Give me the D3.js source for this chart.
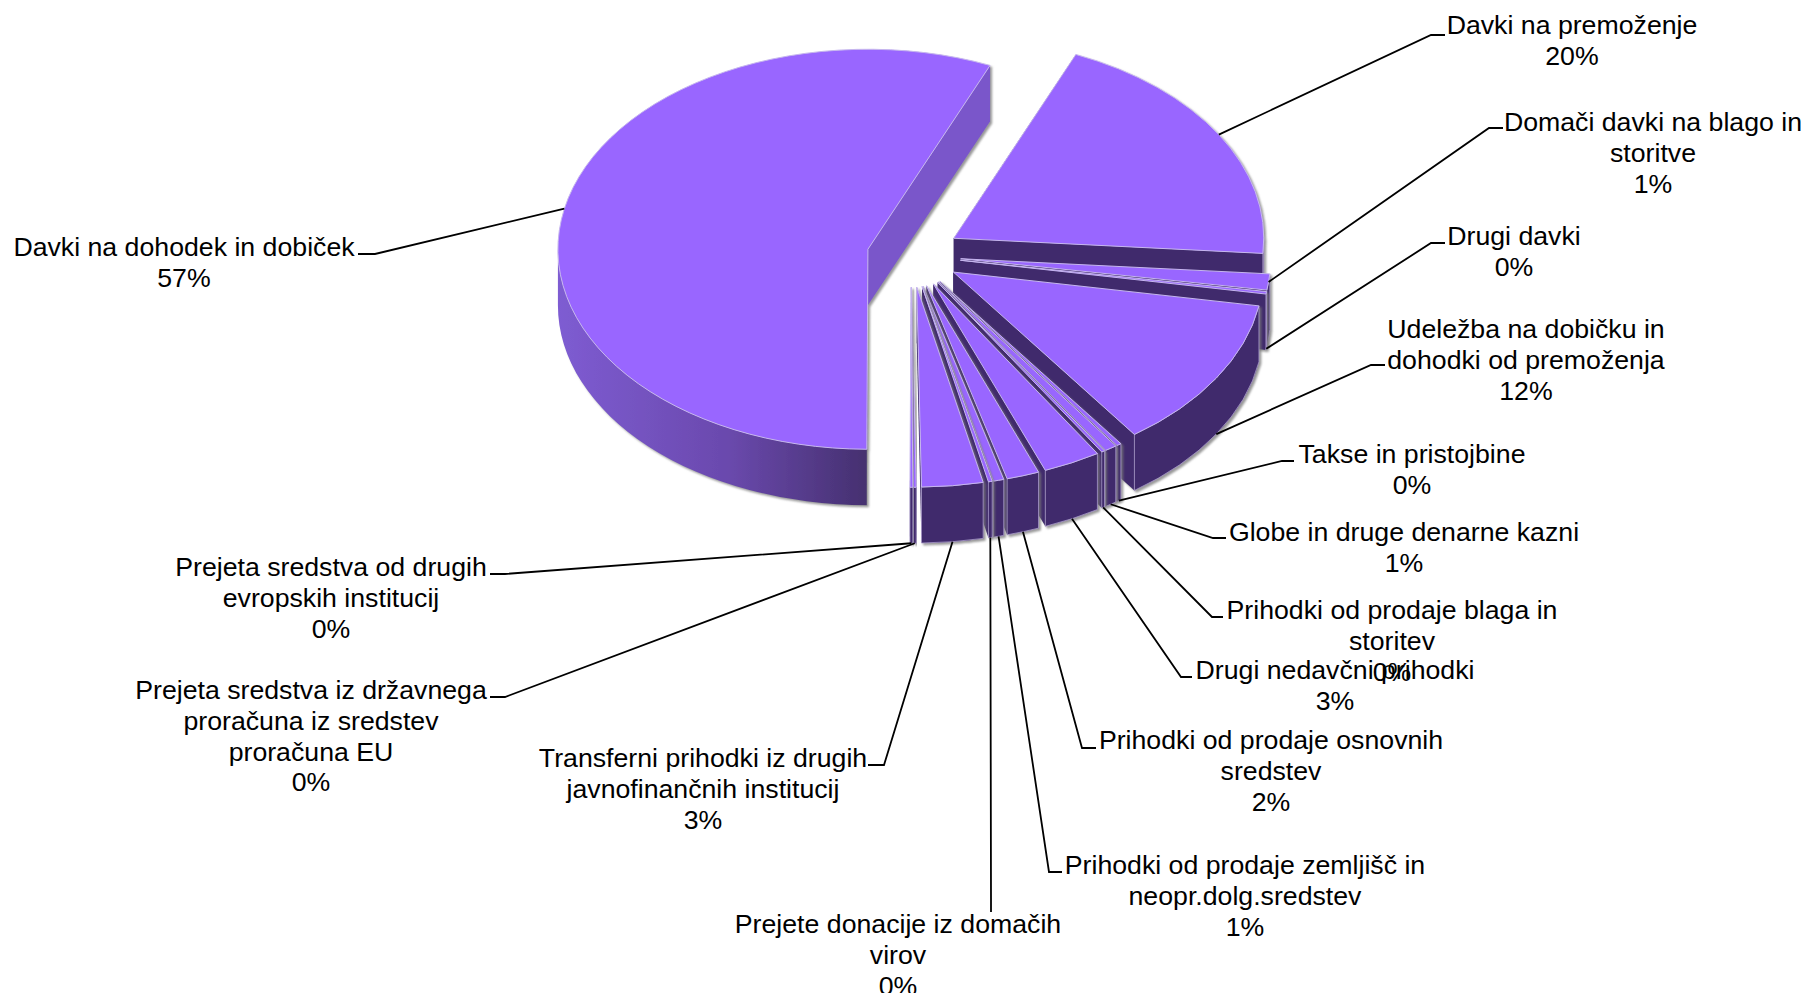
<!DOCTYPE html>
<html>
<head>
<meta charset="utf-8">
<script src="https://cdnjs.cloudflare.com/ajax/libs/d3/7.8.5/d3.min.js"></script>
<style>
html,body{margin:0;padding:0;background:#fff;}
svg{display:block;}
text{font-family:"Liberation Sans",Arial,sans-serif;font-size:26.7px;fill:#000;text-anchor:middle;}
.leader{fill:none;stroke:#000;stroke-width:1.8px;}
</style>
</head>
<body>
<div id="canvas"></div>
<script>
//data, clockwise from the gap next to the big slice
var categories = [
  ['Davki na premoženje'],
  ['Domači davki na blago in','storitve'],
  ['Drugi davki'],
  ['Udeležba na dobičku in','dohodki od premoženja'],
  ['Takse in pristojbine'],
  ['Globe in druge denarne kazni'],
  ['Prihodki od prodaje blaga in','storitev'],
  ['Drugi nedavčni prihodki'],
  ['Prihodki od prodaje osnovnih','sredstev'],
  ['Prihodki od prodaje zemljišč in','neopr.dolg.sredstev'],
  ['Prejete donacije iz domačih','virov'],
  ['Transferni prihodki iz drugih','javnofinančnih institucij'],
  ['Prejeta sredstva iz državnega','proračuna iz sredstev','proračuna EU'],
  ['Prejeta sredstva od drugih','evropskih institucij'],
  ['Davki na dohodek in dobiček']
];
var values = [19.8,1.3,0.2,12.4,0.25,0.63,0.17,3.0,1.7,0.55,0.2,3.2,0.15,0.15,56.5];

//label layout: centre x and y of the first line
var labelX = [1572,1653,1514,1526,1412,1404,1392,1335,1271,1245,898,703,311,331,184];
var labelY = [24,121,235,328,453,531,609,669,739,864,923,757,689,566,246];
//leader: elbow and end point
var elbowX = [1431,1489,1431,1371,1282,1213,1212,1181,1082,1049,991,884,505,505,375];
var endX   = [1445,1503,1445,1385,1294,1226,1223,1192,1096,1062,991,868,490,490,358];
var leaderY = [35,128,243,365,461,538,617,677,748,872,912,765,697,574,254];

var width = 1809, height = 993;
var cx = 911, cy = 255, rx = 310, ry = 200, depth = 56, explode = 50, lineH = 30.8;
var startDeg = 23.2;
var big = values.length-1, bigExplode = 44;

var scaleX = d3.scaleLinear().domain([-1,1]).range([-rx,rx]);
var scaleY = d3.scaleLinear().domain([-1,1]).range([-ry,ry]);

var svg = d3.select('#canvas').append('svg')
    .attr('width',width)
    .attr('height',height);

var defs = svg.append('defs');
var shadow = defs.append('filter').attr('id','shadow')
    .attr('x','-10%').attr('y','-10%').attr('width','125%').attr('height','125%');
shadow.append('feDropShadow')
    .attr('dx',2).attr('dy',2).attr('stdDeviation',1.2)
    .attr('flood-color','#777').attr('flood-opacity',0.75);

//lit wall of the big slice, in the slice's own coordinates
var grad = defs.append('linearGradient').attr('id','wall')
    .attr('gradientUnits','userSpaceOnUse')
    .attr('x1',-rx).attr('x2',0).attr('y1',0).attr('y2',0);
grad.append('stop').attr('offset','0%').attr('stop-color','#7e5cd2');
grad.append('stop').attr('offset','55%').attr('stop-color','#6a49ad');
grad.append('stop').attr('offset','100%').attr('stop-color','#45306f');

var pie = d3.pie().sort(null)
    .startAngle(startDeg*Math.PI/180)
    .endAngle(startDeg*Math.PI/180+2*Math.PI);
var arcs = pie(values);
var arc = d3.arc().innerRadius(0).outerRadius(rx);

function rimX(a){return scaleX(Math.sin(a));}
function rimY(a){return scaleY(-Math.cos(a));}
function mid(d){return (d.startAngle+d.endAngle)/2;}
function pull(d){return d.index==big?bigExplode:explode;}
function offX(d){return pull(d)*Math.sin(mid(d));}
function offY(d){return -pull(d)*Math.cos(mid(d))*ry/rx;}

//cut face along one radius
function face(a){
  return 'M0,0L'+rimX(a)+','+rimY(a)+'l0,'+depth+'L0,'+depth+'Z';
}
//outer wall, only the part that faces the viewer
function wall(d){
  var a0 = Math.max(d.startAngle,Math.PI/2),
      a1 = Math.min(d.endAngle,Math.PI*1.5);
  if(a1<=a0) return '';
  return 'M'+rimX(a0)+','+rimY(a0)
    +'A'+rx+','+ry+' 0 0 1 '+rimX(a1)+','+rimY(a1)
    +'l0,'+depth
    +'A'+rx+','+ry+' 0 0 0 '+rimX(a0)+','+(rimY(a0)+depth)+'Z';
}

var slices = svg.selectAll('.slice')
    .data(arcs)
    .enter()
    .append('g')
    .attr('class','slice')
    .attr('filter','url(#shadow)')
    .attr('transform',function(d){
      return 'translate('+(cx+offX(d))+','+(cy+offY(d))+')';
    });

slices.append('path')
    .attr('d',function(d){return face(d.startAngle);})
    .attr('fill','#3f2a6c');
slices.append('path')
    .attr('d',function(d){return face(d.endAngle);})
    .attr('fill',function(d){return d.index==big?'#7a56ca':'#3f2a6c';});
slices.append('path')
    .attr('d',wall)
    .attr('fill',function(d){return d.index==big?'url(#wall)':'#3f2a6c';})
    .attr('stroke',function(d){return d.index==big?'none':'#a99bc9';})
    .attr('stroke-width',0.8);
slices.append('path')
    .attr('d',arc)
    .attr('transform','scale(1,'+(ry/rx)+')')
    .attr('vector-effect','non-scaling-stroke')
    .attr('fill','#9966ff')
    .attr('stroke','#c6b6ee')
    .attr('stroke-width',1);

//leaders start on the rim at the slice's middle angle
function anchor(d){
  var a = mid(d), deg = a*180/Math.PI;
  var top = deg<98 || deg>270;
  return [cx+(rx+pull(d))*Math.sin(a),
          cy-(rx+pull(d))*Math.cos(a)*ry/rx+(top?0:depth)];
}

svg.selectAll('.leader')
    .data(arcs)
    .enter()
    .append('polyline')
    .attr('class','leader')
    .attr('points',function(d,i){
      var p = anchor(d), ey = leaderY[i], ely = ey;
      if(elbowX[i]==endX[i]) ely = ey-14; //the one that drops straight down
      return [p,[elbowX[i],ely],[endX[i],ey]].join(' ');
    });

//labels
var labels = svg.selectAll('.label')
    .data(arcs)
    .enter()
    .append('text')
    .attr('class','label');
labels.each(function(d,i){
  var lines = categories[i].concat([Math.round(values[i])+'%']);
  d3.select(this).selectAll('tspan')
    .data(lines)
    .enter()
    .append('tspan')
    .attr('x',labelX[i])
    .attr('y',function(t,j){return labelY[i]+j*lineH+10;})
    .text(function(t){return t;});
});
</script>
</body>
</html>
